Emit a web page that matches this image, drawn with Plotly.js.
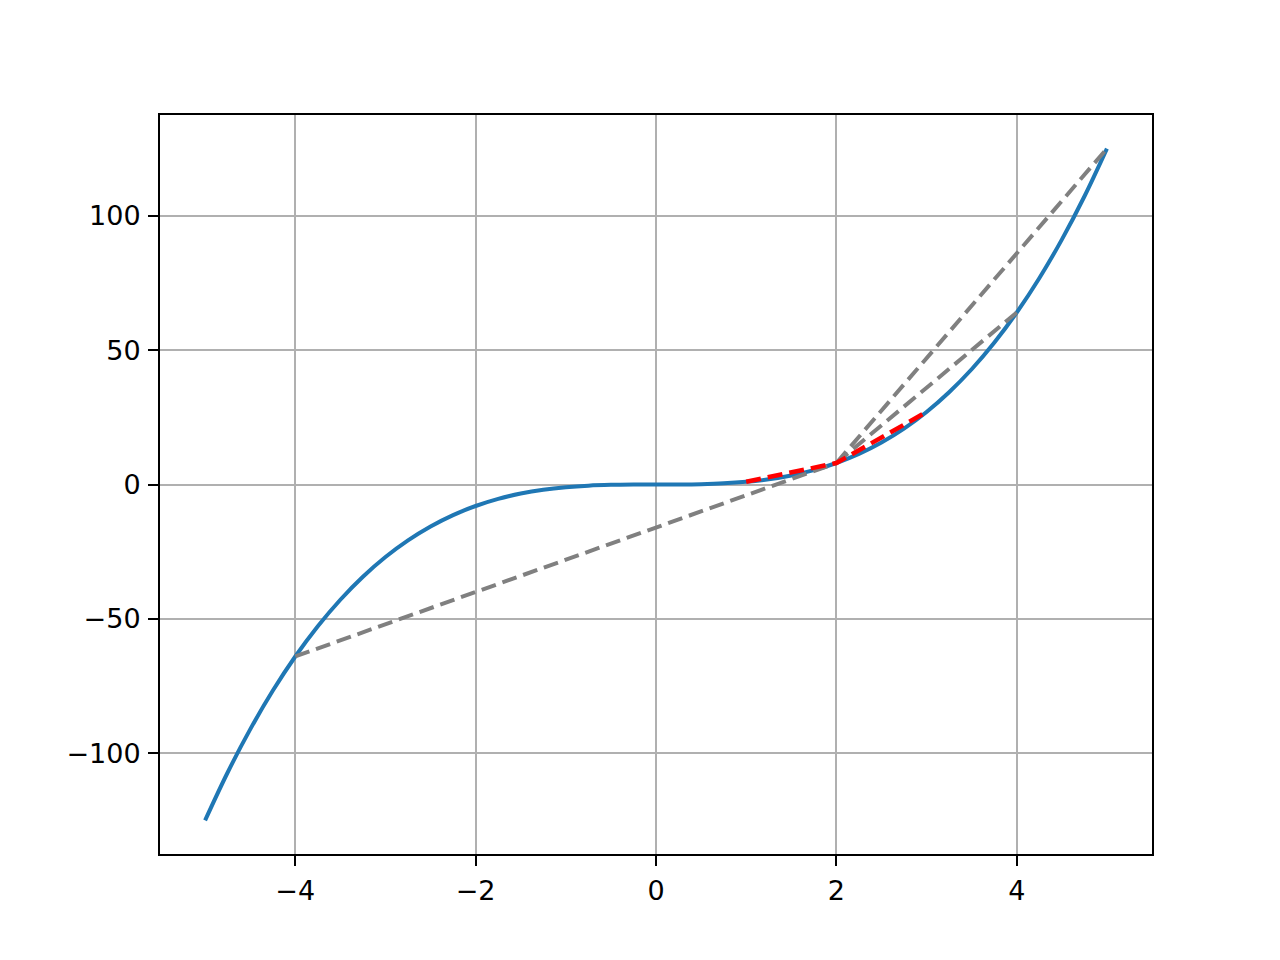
<!DOCTYPE html>
<html>
<head>
<meta charset="utf-8">
<script src="https://cdn.plot.ly/plotly-3.0.1.min.js"></script>
<style>
  html, body { margin: 0; padding: 0; background: #fff; }
  #chart { width: 1280px; height: 960px; }
</style>
</head>
<body>
<div id="chart"></div>
<script>
// curve y = x^3
var curveX = [-5, -4.75, -4.5, -4.25, -4, -3.75, -3.5, -3.25, -3, -2.75, -2.5, -2.25, -2,
              -1.75, -1.5, -1.25, -1, -0.75, -0.5, -0.25, 0, 0.25, 0.5, 0.75, 1, 1.25, 1.5,
              1.75, 2, 2.25, 2.5, 2.75, 3, 3.25, 3.5, 3.75, 4, 4.25, 4.5, 4.75, 5];
var curveY = [-125, -107.17, -91.13, -76.77, -64, -52.73, -42.88, -34.33, -27, -20.8, -15.63,
              -11.39, -8, -5.36, -3.38, -1.95, -1, -0.42, -0.13, -0.02, 0, 0.02, 0.13, 0.42, 1,
              1.95, 3.38, 5.36, 8, 11.39, 15.63, 20.8, 27, 34.33, 42.88, 52.73, 64, 76.77,
              91.13, 107.17, 125];

// grey secant lines through (2, 8)
var secant1X = [2, 5];
var secant1Y = [8, 125];
var secant2X = [2, 4];
var secant2Y = [8, 64];
var secant3X = [-4, 2];
var secant3Y = [-64, 8];

// red short secants
var redX = [1, 2, 3];
var redY = [1, 8, 27];

var xTicks = [-4, -2, 0, 2, 4];
var xTickText = ['\u22124', '\u22122', '0', '2', '4'];
var yTicks = [-100, -50, 0, 50, 100];
var yTickText = ['\u2212100', '\u221250', '0', '50', '100'];

var dashStyle = '15px,7px';

var curve = {
    x: curveX, y: curveY, mode: 'lines', type: 'scatter',
    line: {color: '#1f77b4', width: 4, shape: 'spline'}
};
function grey(xs, ys) {
    return {
        x: xs, y: ys, mode: 'lines', type: 'scatter',
        line: {color: 'gray', width: 4, dash: dashStyle}
    };
}
var red = {
    x: redX, y: redY, mode: 'lines', type: 'scatter',
    line: {color: 'red', width: 4.5, dash: dashStyle}
};

var axisCommon = {
    showgrid: true,
    gridcolor: '#b0b0b0',
    gridwidth: 2,
    zeroline: false,
    showline: true,
    linecolor: 'black',
    linewidth: 2,
    mirror: true,
    ticks: 'outside',
    ticklen: 10,
    tickwidth: 2,
    tickcolor: 'black',
    ticklabelstandoff: 2,
    tickfont: {family: 'DejaVu Sans', size: 27, color: 'black'}
};

var layout = {
    width: 1280,
    height: 960,
    showlegend: false,
    paper_bgcolor: 'white',
    plot_bgcolor: 'white',
    margin: {l: 160, r: 128, t: 115, b: 106},
    xaxis: Object.assign({}, axisCommon, {
        range: [-5.5, 5.5],
        tickvals: xTicks,
        ticktext: xTickText
    }),
    yaxis: Object.assign({}, axisCommon, {
        range: [-137.5, 137.5],
        tickvals: yTicks,
        ticktext: yTickText
    })
};

Plotly.newPlot('chart',
    [curve, grey(secant1X, secant1Y), grey(secant2X, secant2Y), grey(secant3X, secant3Y), red],
    layout, {staticPlot: true});
</script>
</body>
</html>
